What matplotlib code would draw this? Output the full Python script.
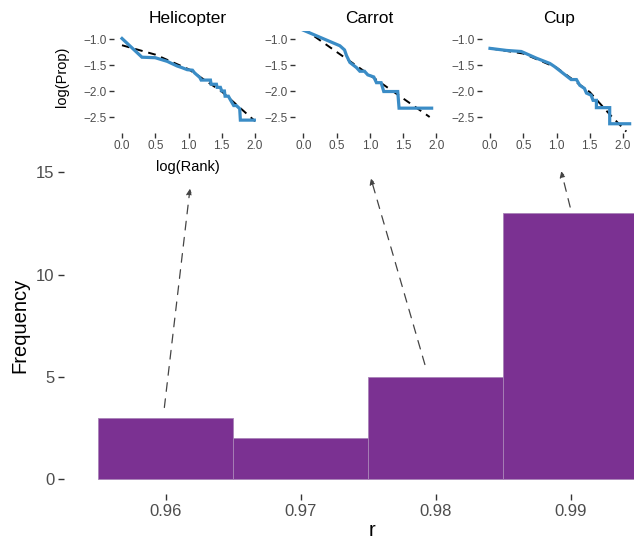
import matplotlib
matplotlib.use("Agg")
import matplotlib.pyplot as plt
import numpy as np

plt.rcParams['font.family'] = ['Liberation Sans', 'DejaVu Sans']

# ---- main histogram data ----
bin_left = [0.955, 0.965, 0.975, 0.985]
bin_width = 0.01
freq = [3, 2, 5, 13]
xticks_main = [0.96, 0.97, 0.98, 0.99]
xtick_labels_main = ["0.96", "0.97", "0.98", "0.99"]
yticks_main = [0, 5, 10, 15]

# ---- inset data (log rank vs log proportion) ----
titles = ["Helicopter", "Carrot", "Cup"]

heli_x = [0.00, 0.30, 0.50, 0.68, 0.83, 0.90, 0.98, 1.06, 1.09, 1.17, 1.19, 1.33, 1.34, 1.42, 1.43,
          1.48, 1.50, 1.54, 1.55, 1.60, 1.63, 1.68, 1.72, 1.77, 1.78, 1.99]
heli_y = [-0.99, -1.35, -1.36, -1.43, -1.52, -1.55, -1.59, -1.60, -1.65, -1.74, -1.79, -1.79, -1.87, -1.87, -1.93,
          -1.93, -2.00, -2.00, -2.10, -2.10, -2.17, -2.28, -2.28, -2.34, -2.56, -2.56]
heli_fit_x = [0.0, 0.5, 1.0, 1.5, 2.0]
heli_fit_y = [-1.12, -1.30, -1.58, -2.01, -2.58]

carrot_x = [0.00, 0.55, 0.62, 0.65, 0.70, 0.80, 0.85, 0.92, 0.97, 1.06, 1.10, 1.17, 1.21, 1.42, 1.44, 1.93]
carrot_y = [-0.83, -1.13, -1.21, -1.32, -1.45, -1.55, -1.62, -1.62, -1.69, -1.73, -1.84, -1.84, -2.01, -2.01, -2.33, -2.33]
carrot_fit_x = [0.0, 1.9]
carrot_fit_y = [-0.80, -2.50]

cup_x = [0.00, 0.25, 0.47, 0.70, 0.90, 0.97, 1.07, 1.17, 1.22, 1.30, 1.35, 1.42, 1.45, 1.52, 1.55, 1.60, 1.60,
         1.80, 1.80, 2.10]
cup_y = [-1.18, -1.22, -1.24, -1.37, -1.47, -1.53, -1.63, -1.73, -1.78, -1.78, -1.89, -1.95, -2.04, -2.08, -2.18,
         -2.18, -2.32, -2.32, -2.63, -2.63]
cup_fit_x = [0.0, 0.5, 1.0, 1.5, 1.8, 2.05]
cup_fit_y = [-1.18, -1.28, -1.55, -2.02, -2.45, -2.78]

inset_xticks = [0.0, 0.5, 1.0, 1.5, 2.0]
inset_yticks = [-1.0, -1.5, -2.0, -2.5]

# arrows: (start x, start y) -> (tip x, tip y) in main-data coordinates
arrow_start = [(0.9599, 3.5), (0.9792, 5.6), (0.98996, 13.3)]
arrow_tip = [(0.9618, 14.2), (0.9752, 14.7), (0.9893, 15.05)]

W, H = 634, 541
fig = plt.figure(figsize=(W / 100, H / 100), dpi=100)


def box(l, t, r, b):
    return [l / W, 1 - b / H, (r - l) / W, (b - t) / H]


def ftext(px, py, s, **kw):
    fig.text(px / W, 1 - py / H, s, ha='center', va='center', **kw)


TXT = '#4D4D4D'
PURPLE = '#7B3192'
BLUE = '#3A8CC6'

# main axes
ax = fig.add_axes(box(64, 158, 634, 494))
ax.bar(bin_left, freq, width=bin_width, align='edge', color=PURPLE, edgecolor='#A983B8', linewidth=0.6)
ax.set_xlim(0.96 - (165.7 - 64) / 13500, 0.96 + (634 - 165.7) / 13500)
ax.set_ylim(-0.73, 15.7)
ax.set_xticks(xticks_main)
ax.set_xticklabels(xtick_labels_main)
ax.set_yticks(yticks_main)
for s in ax.spines.values():
    s.set_visible(False)
ax.tick_params(axis='both', length=4, width=1, color='#333333', labelcolor=TXT, labelsize=12, pad=3)
ftext(20, 325, "Frequency", fontsize=14.5, rotation=90, color='black')
ftext(372, 530, "r", fontsize=14.5, color='black')

for (sx, sy), (tx, ty) in zip(arrow_start, arrow_tip):
    ax.annotate("", xy=(tx, ty), xytext=(sx, sy), xycoords='data', textcoords='data',
                annotation_clip=False,
                arrowprops=dict(arrowstyle='-|>', linestyle=(0, (7, 6)), color='#444444', lw=0.9,
                                mutation_scale=9, shrinkA=0, shrinkB=0))

# insets
inset_data = [(heli_x, heli_y, heli_fit_x, heli_fit_y),
              (carrot_x, carrot_y, carrot_fit_x, carrot_fit_y),
              (cup_x, cup_y, cup_fit_x, cup_fit_y)]
zero_px = [122, 303.3, 490]
pxu = 66.5
xlims = [(-0.12, 2.1), (-0.12, 2.1), (-0.12, 2.2)]

for i, (title, (bx, by, fx, fy)) in enumerate(zip(titles, inset_data)):
    x0, x1 = xlims[i]
    left = zero_px[i] + x0 * pxu
    right = zero_px[i] + x1 * pxu
    ia = fig.add_axes(box(left, 31.2, right, 132.6))
    ia.set_facecolor('none')
    ia.plot(fx, fy, color='black', lw=1.4, ls=(0, (4, 3)), zorder=2)
    ia.plot(bx, by, color=BLUE, lw=2.3, zorder=3, solid_joinstyle='miter')
    ia.set_xlim(x0, x1)
    ia.set_ylim(-2.8, -0.85)
    ia.set_xticks(inset_xticks)
    ia.set_xticklabels([f"{v:.1f}" for v in inset_xticks])
    ia.set_yticks(inset_yticks)
    ia.set_yticklabels([f"{v:.1f}".replace('-', '\u2212') for v in inset_yticks])
    for s in ia.spines.values():
        s.set_visible(False)
    ia.tick_params(axis='both', length=3.5, width=1, color='#333333', labelcolor=TXT, labelsize=8.5, pad=2)
    ia.set_title(title, fontsize=12.5, pad=6, color='black')

ftext(62, 77, "log(Prop)", fontsize=10.5, rotation=90, color='black')
ftext(188, 167, "log(Rank)", fontsize=10.5, color='black')

fig.savefig("out.png", dpi=100)
